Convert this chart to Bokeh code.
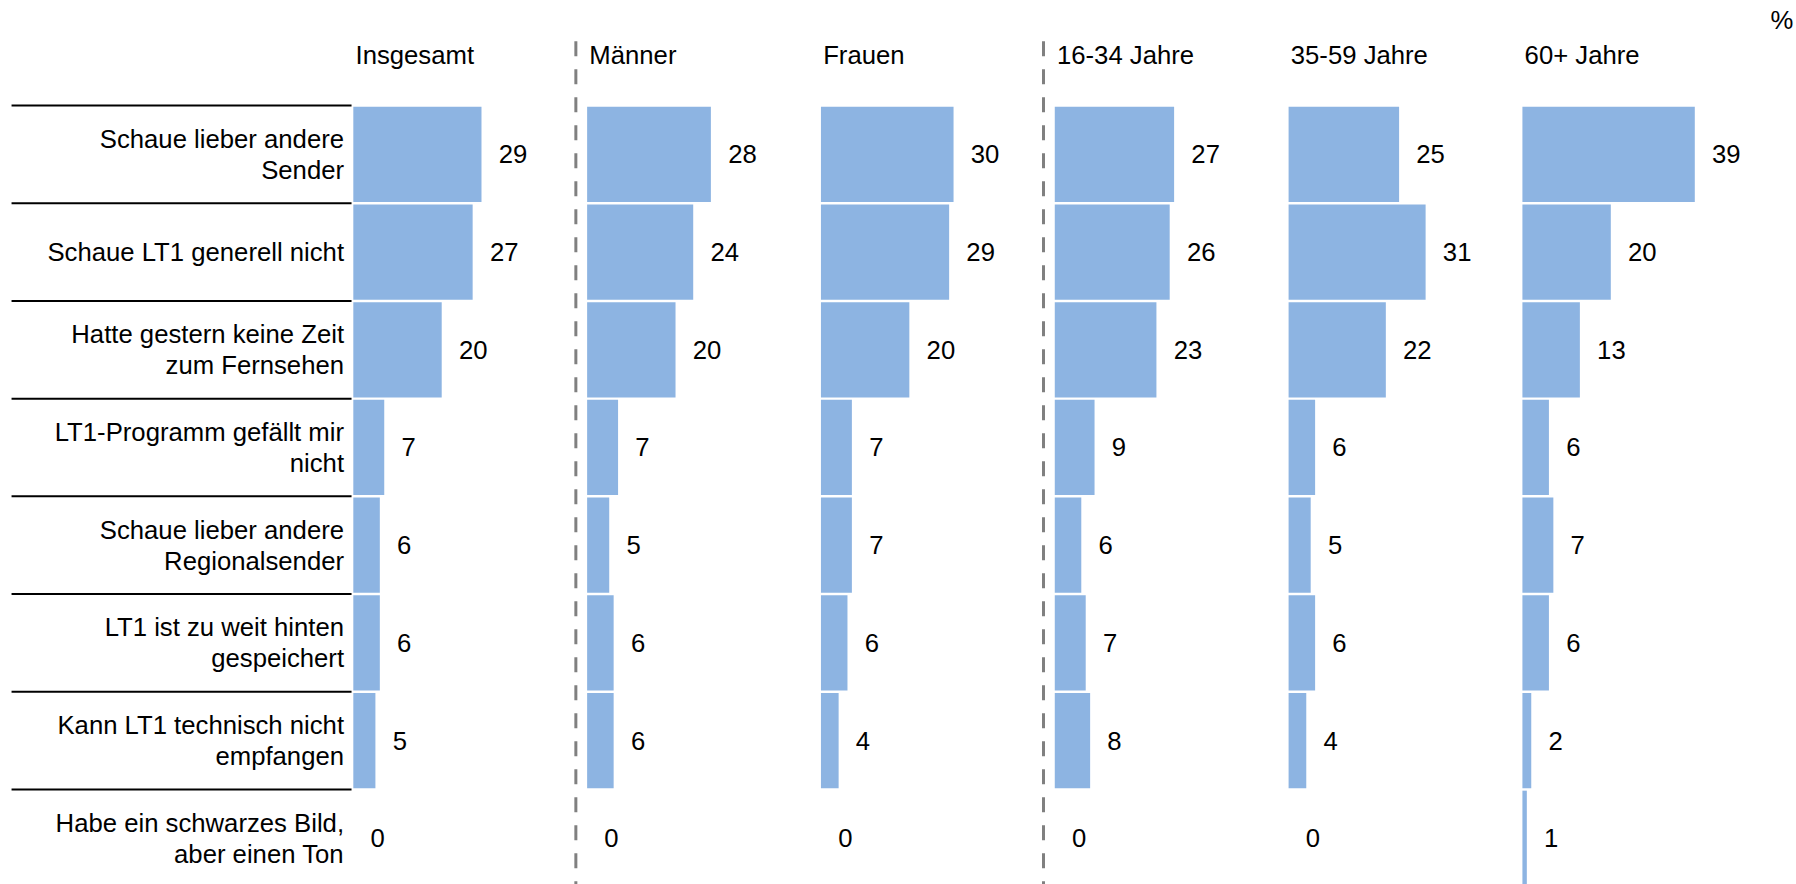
from bokeh.plotting import figure
from bokeh.models import ColumnDataSource, Range1d
from bokeh.core.properties import value
from bokeh.embed import file_html
from bokeh.resources import INLINE

categories = [
    "Schaue lieber andere\nSender",
    "Schaue LT1 generell nicht",
    "Hatte gestern keine Zeit\nzum Fernsehen",
    "LT1-Programm gefällt mir\nnicht",
    "Schaue lieber andere\nRegionalsender",
    "LT1 ist zu weit hinten\ngespeichert",
    "Kann LT1 technisch nicht\nempfangen",
    "Habe ein schwarzes Bild,\naber einen Ton",
]
groups = ["Insgesamt", "Männer", "Frauen", "16-34 Jahre", "35-59 Jahre", "60+ Jahre"]
insgesamt = [29, 27, 20, 7, 6, 6, 5, 0]
maenner = [28, 24, 20, 7, 5, 6, 6, 0]
frauen = [30, 29, 20, 7, 7, 6, 4, 0]
j16_34 = [27, 26, 23, 9, 6, 7, 8, 0]
j35_59 = [25, 31, 22, 6, 5, 6, 4, 0]
j60plus = [39, 20, 13, 6, 7, 6, 2, 1]
series = [insgesamt, maenner, frauen, j16_34, j35_59, j60plus]
divider_before = [1, 3]  # dashed separators before these panels
unit_label = "%"

FONT = value("Liberation Sans")
FS = "25.7px"
BAR = "#8DB4E2"
PANEL = 52.9          # panel width in percent units
X0, X1 = -79.82, 326.51
Y0, Y1 = 7.473, -1.575

p = figure(width=1796, height=884, output_backend="svg", toolbar_location=None,
           x_range=Range1d(X0, X1), y_range=Range1d(Y0, Y1),
           min_border=0, min_border_left=0, min_border_right=0,
           min_border_top=0, min_border_bottom=0)
p.axis.visible = False
p.grid.visible = False
p.outline_line_color = None
p.background_fill_color = "white"
p.border_fill_color = "white"

rows = list(range(len(categories)))

# bars and value labels
ys, lefts, rights, lx, labels = [], [], [], [], []
for gi, vals in enumerate(series):
    off = gi * PANEL
    for r, v in zip(rows, vals):
        ys.append(r)
        lefts.append(off)
        rights.append(off + v)
        lx.append(off + v + 3.9)
        labels.append(str(v))
src = ColumnDataSource(dict(y=ys, left=lefts, right=rights, lx=lx, label=labels))
p.hbar(y="y", left="left", right="right", height=0.975, source=src,
       fill_color=BAR, line_color=None)
p.text(x="lx", y="y", text="label", source=src, text_font=FONT, text_font_size=FS,
       text_align="left", text_baseline="middle", text_color="black")

# category labels
p.text(x=[-2.1] * len(categories), y=rows, text=categories, text_font=FONT,
       text_font_size=FS, text_align="right", text_baseline="middle",
       text_line_height=1.1, text_color="black")

# separator lines in the label column
sep_y = [r - 0.5 for r in rows]
p.segment(x0=[X0 + 2.5] * len(sep_y), x1=[-0.4] * len(sep_y), y0=sep_y, y1=sep_y,
          line_color="black", line_width=2)

# group headers
p.text(x=[gi * PANEL + 0.5 for gi in range(len(groups))], y=[-1.015] * len(groups),
       text=groups, text_font=FONT, text_font_size=FS, text_align="left",
       text_baseline="alphabetic", text_color="black")

# unit label
p.text(x=[X1 - 0.7], y=[-1.38], text=[unit_label], text_font=FONT, text_font_size=FS,
       text_align="right", text_baseline="alphabetic", text_color="black")

# dashed dividers
for d in divider_before:
    xd = d * PANEL - 2.55
    p.segment(x0=[xd], x1=[xd], y0=[-1.158], y1=[Y0], line_color="#808080",
              line_width=3, line_dash="15 13")

open("out.html", "w").write(file_html(p, INLINE))
